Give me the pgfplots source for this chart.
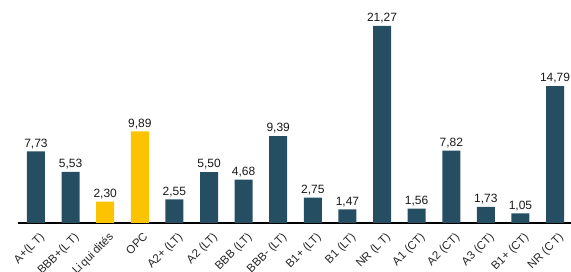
\documentclass[border=0pt]{standalone}
\usepackage{pgfplots}
\pgfplotsset{compat=1.18}
\usepackage{fontspec}
\setmainfont{Liberation Sans}
\definecolor{dk}{HTML}{264E63}
\definecolor{yl}{HTML}{FCC300}
\begin{document}
\begin{tikzpicture}[x=1pt,y=1pt]
\begin{axis}[
  at={(18pt,0pt)}, anchor=south west,
  scale only axis, width=553pt, height=197pt,
  xmin=-0.52, xmax=15.46, ymin=0, ymax=21.27,
  clip=false,
  hide y axis,
  axis x line*=bottom,
  x axis line style={-, line width=1.5pt},
  xtick={0,...,15},
  xticklabels={A+(L\,T),BBB+(L\,T),Li\,qui\,dités,OPC,A2+ (LT),A2 (LT),BBB (LT),BBB- (LT),B1+ (LT),B1 (LT),NR (L\,T),A1 (CT),A2 (CT),A3 (CT),B1+ (CT),NR (C\,T)},
  major tick length=0pt,
  xticklabel style={rotate=45, anchor=north east, font=\fontsize{11.5}{14}\selectfont, color=black!85, inner sep=1pt, yshift=-7pt, xshift=-3pt},
  ybar, bar width=18pt, bar shift=0pt,
  nodes near coords,
  every node near coord/.append style={font=\fontsize{12}{14}\selectfont, color=black!90, yshift=-1pt},
  /pgf/number format/.cd, fixed, fixed zerofill, precision=2, use comma, assume math mode=true,
]
\addplot[fill=dk, draw=none] coordinates {
(0,7.73) (1,5.53) (4,2.55) (5,5.50) (6,4.68) (7,9.39) (8,2.75) (9,1.47) (10,21.27) (11,1.56) (12,7.82) (13,1.73) (14,1.05) (15,14.79)};
\addplot[fill=yl, draw=none] coordinates {(2,2.30) (3,9.89)};
\end{axis}
\pgfresetboundingbox
\useasboundingbox (0,-49) rectangle (571,223);
\end{tikzpicture}
\end{document}
